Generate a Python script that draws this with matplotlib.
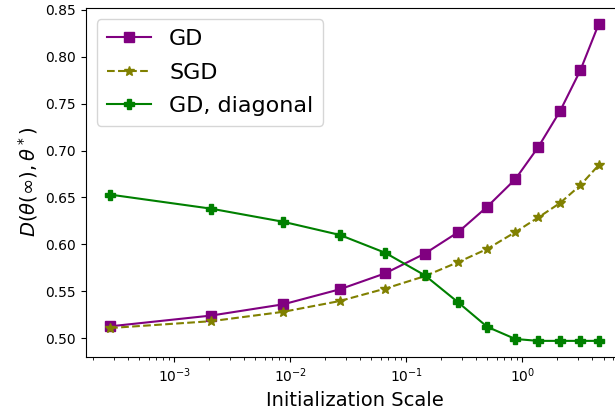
import numpy as np
import matplotlib
matplotlib.use('Agg')
import matplotlib.pyplot as plt

# initialization scales (x) and final distance for each method
init_scale = [2.8e-4, 2.08e-3, 8.7e-3, 0.0267, 0.0656, 0.144, 0.28, 0.497, 0.87,
              1.37, 2.11, 3.16, 4.55]
gd = [0.5125, 0.524, 0.536, 0.552, 0.569, 0.590, 0.613, 0.640, 0.6695, 0.7037,
      0.742, 0.7856, 0.835]
sgd = [0.5107, 0.518, 0.528, 0.5395, 0.5527, 0.566, 0.581, 0.595, 0.613, 0.6286,
       0.644, 0.663, 0.6845]
gd_diag = [0.653, 0.638, 0.624, 0.610, 0.591, 0.567, 0.538, 0.512, 0.499, 0.497,
           0.497, 0.497, 0.497]

fig = plt.figure(figsize=(6.15, 4.16), dpi=100)
# right spine falls just outside the canvas, as in the cropped original
ax = fig.add_axes([0.1393, 0.1425, 0.874, 0.838])

ax.plot(init_scale, gd, color='purple', marker='s', markersize=7.5, label='GD')
ax.plot(init_scale, sgd, color='olive', marker='*', markersize=7.5, linestyle='--', label='SGD')
ax.plot(init_scale, gd_diag, color='green', marker='P', markersize=7.5, label='GD, diagonal')

ax.set_xscale('log')
ax.set_xlabel('Initialization Scale', fontsize=14)
ax.set_ylabel(r'$D(\theta(\infty), \theta^*)$', fontsize=14)
ax.legend(loc='upper left', fontsize=16, labelspacing=0.6, borderpad=0.45)

fig.savefig('out.png', dpi=100)
